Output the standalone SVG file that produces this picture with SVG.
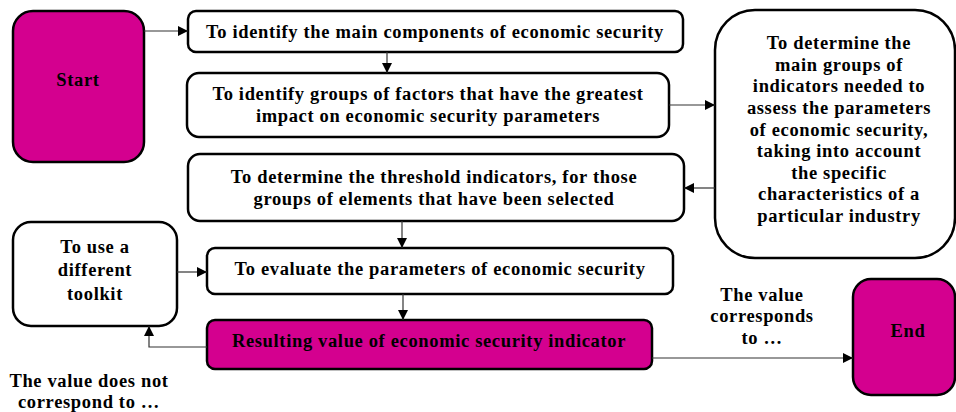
<svg xmlns="http://www.w3.org/2000/svg" width="956" height="412" viewBox="0 0 956 412">
<style>
.box{fill:#fff;stroke:#000;stroke-width:2.5}
.mag{fill:#D4008F;stroke:#000;stroke-width:2.5}
text{font-family:"Liberation Serif","Times New Roman",serif;font-weight:bold;font-size:18.5px;letter-spacing:0.65px;fill:#000;text-anchor:middle}
.c{fill:none;stroke:#333;stroke-width:1.2}
</style>
<defs>
<marker id="ah" viewBox="0 0 10 10" refX="10" refY="5" markerWidth="10" markerHeight="10" markerUnits="userSpaceOnUse" orient="auto">
<path d="M0,0 L10,5 L0,10 Z" fill="#000"/>
</marker>
</defs>
<g id="start"><rect class="mag" x="13" y="11" width="131" height="151" rx="20"/><text x="78" y="86">Start</text></g>
<g id="n1"><rect class="box" x="188" y="11" width="495" height="41" rx="8"/><text x="435" y="38">To identify the main components of economic security</text></g>
<g id="n2"><rect class="box" x="187" y="73" width="482" height="64" rx="12"/><text x="428" y="100">To identify groups of factors that have the greatest</text><text x="428" y="122">impact on economic security parameters</text></g>
<g id="n3"><rect class="box" x="188" y="154" width="496" height="67" rx="12"/><text x="434" y="183">To determine the threshold indicators, for those</text><text x="434" y="205">groups of elements that have been selected</text></g>
<g id="n4"><rect class="box" x="207" y="248" width="466" height="46" rx="8"/><text x="440" y="275">To evaluate the parameters of economic security</text></g>
<g id="n5"><rect class="mag" x="207" y="320" width="445" height="49" rx="8"/><text x="429" y="347">Resulting value of economic security indicator</text></g>
<g id="toolkit"><rect class="box" x="13" y="222" width="164" height="104" rx="18"/><text x="95" y="253">To use a</text><text x="95" y="276">different</text><text x="95" y="300">toolkit</text></g>
<g id="big"><rect class="box" x="715" y="10" width="240" height="248" rx="40"/>
<text x="839" y="49">To determine the</text><text x="839" y="71">main groups of</text><text x="839" y="92">indicators needed to</text><text x="839" y="114">assess the parameters</text><text x="839" y="136">of economic security,</text><text x="839" y="157">taking into account</text><text x="839" y="179">the specific</text><text x="839" y="200">characteristics of a</text><text x="839" y="222">particular industry</text></g>
<g id="end"><rect class="mag" x="853" y="279" width="102" height="116" rx="18"/><text x="908" y="337">End</text></g>
<g id="labels"><text x="89" y="387">The value does not</text><text x="89" y="408">correspond to …</text>
<text x="762" y="301">The value</text><text x="762" y="322">corresponds</text><text x="762" y="344">to …</text></g>
<g id="connectors">
<path class="c" d="M144,31 H188" marker-end="url(#ah)"/>
<path class="c" d="M387,52 V73" marker-end="url(#ah)"/>
<path class="c" d="M669,105 H715" marker-end="url(#ah)"/>
<path class="c" d="M715,188 H684" marker-end="url(#ah)"/>
<path class="c" d="M402,221 V248" marker-end="url(#ah)"/>
<path class="c" d="M403,294 V320" marker-end="url(#ah)"/>
<path class="c" d="M177,272 H207" marker-end="url(#ah)"/>
<path class="c" d="M207,347 H149 V326" marker-end="url(#ah)"/>
<path class="c" d="M652,358 H853" marker-end="url(#ah)"/>
</g>
</svg>
